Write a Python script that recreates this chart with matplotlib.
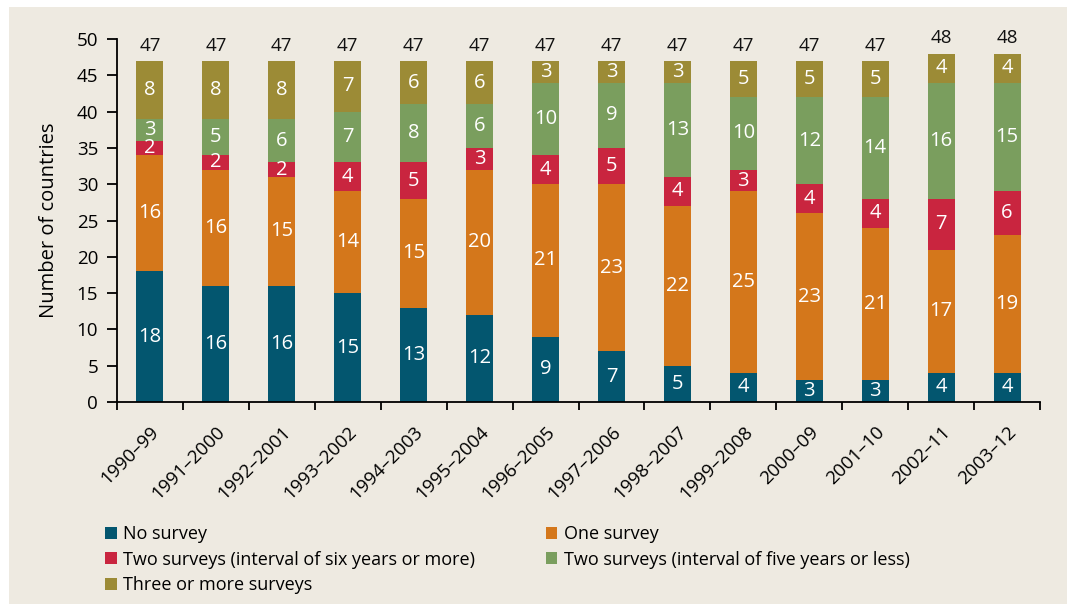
import numpy as np
import matplotlib.pyplot as plt
from matplotlib.patches import Rectangle
from matplotlib.transforms import ScaledTranslation

plt.rcParams['font.family'] = ['Open Sans', 'DejaVu Sans']

periods = ['1990–99', '1991–2000', '1992–2001', '1993–2002', '1994–2003', '1995–2004',
           '1996–2005', '1997–2006', '1998–2007', '1999–2008', '2000–09', '2001–10',
           '2002–11', '2003–12']
no_survey = [18, 16, 16, 15, 13, 12, 9, 7, 5, 4, 3, 3, 4, 4]
one_survey = [16, 16, 15, 14, 15, 20, 21, 23, 22, 25, 23, 21, 17, 19]
two_six_plus = [2, 2, 2, 4, 5, 3, 4, 5, 4, 3, 4, 4, 7, 6]
two_five_less = [3, 5, 6, 7, 8, 6, 10, 9, 13, 10, 12, 14, 16, 15]
three_plus = [8, 8, 8, 7, 6, 6, 3, 3, 3, 5, 5, 5, 4, 4]

series = [
    ('No survey', no_survey, '#03566f'),
    ('One survey', one_survey, '#d4771b'),
    ('Two surveys (interval of six years or more)', two_six_plus, '#c9253f'),
    ('Two surveys (interval of five years or less)', two_five_less, '#7a9e5e'),
    ('Three or more surveys', three_plus, '#9c8b36'),
]

bg = '#eeeae1'
fig = plt.figure(figsize=(10.67, 6.09), dpi=100)
fig.patch.set_facecolor('white')
fig.patches.append(Rectangle((9 / 1067, 5 / 609), 1 - 9 / 1067, 1 - 12 / 609,
                             transform=fig.transFigure, facecolor=bg, edgecolor='none', zorder=-10))

ax = fig.add_axes([117 / 1067, 1 - 402 / 609, (1040 - 117) / 1067, (402 - 39) / 609])
ax.set_facecolor('none')

x = np.arange(len(periods))
bottom = np.zeros(len(periods))
bars = {}
for name, vals, col in series:
    vals = np.array(vals)
    b = ax.bar(x, vals, width=0.41, bottom=bottom, color=col, label=name, zorder=2)
    bars[name] = b
    for xi, v, bt in zip(x, vals, bottom):
        ax.text(xi, bt + v / 2, str(v), ha='center', va='center', color='white',
                fontsize=14.5, zorder=3)
    bottom = bottom + vals

for xi, tot in zip(x, bottom):
    ax.annotate(str(int(tot)), (xi, tot), xytext=(0, 4.5), textcoords='offset points',
                ha='center', va='bottom', fontsize=13.5, color='#111111')

ax.set_xlim(-0.5, len(periods) - 0.5)
ax.set_ylim(0, 50)
ax.set_yticks(range(0, 51, 5))
ax.set_xticks(x)
ax.set_xticklabels(periods, rotation=45, ha='right', rotation_mode='anchor')
shift = ScaledTranslation(6 / 100, 0, fig.dpi_scale_trans)
for lab in ax.get_xticklabels():
    lab.set_transform(lab.get_transform() + shift)
ax.set_xticks(np.arange(-0.5, len(periods), 1), minor=True)
ax.tick_params(axis='x', which='major', length=0, pad=15, labelsize=13.5)
ax.tick_params(axis='x', which='minor', length=6, width=1.3, direction='out')
ax.tick_params(axis='y', length=7.5, width=1.3, direction='out', labelsize=13.5, pad=6)
for s in ['top', 'right']:
    ax.spines[s].set_visible(False)
for s in ['left', 'bottom']:
    ax.spines[s].set_linewidth(1.3)
ax.set_ylabel('Number of countries', fontsize=14.5, labelpad=13)

handles = [bars[s[0]] for s in series]
order = [0, 2, 4, 1, 3]
leg = fig.legend([handles[i] for i in order], [series[i][0] for i in order],
                 ncol=2, loc='upper left', bbox_to_anchor=(96 / 1067, 1 - 516 / 609),
                 frameon=False, fontsize=13, handlelength=0.65, handleheight=0.65,
                 handletextpad=0.35, columnspacing=3.9, labelspacing=0.42, borderpad=0)

fig.savefig('out.png', dpi=100, facecolor='white')
